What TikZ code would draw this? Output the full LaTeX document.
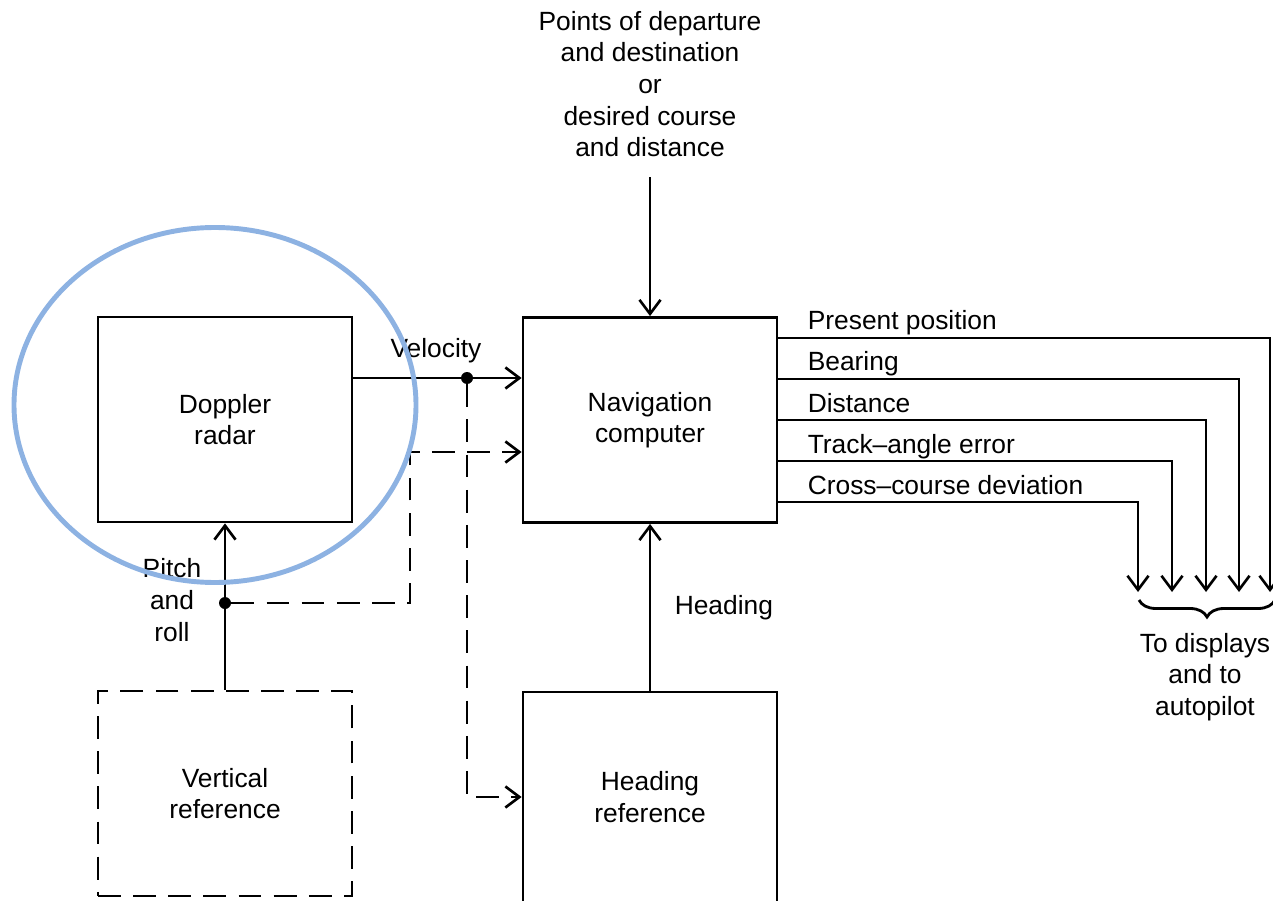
\documentclass[tikz,border=0pt]{standalone}
\usepackage{fontspec}
\setmainfont{Liberation Sans}
\usepackage{tikz}
\usetikzlibrary{arrows.meta,decorations.pathreplacing}
\definecolor{ringblue}{RGB}{141,178,226}

\begin{document}
\begin{tikzpicture}[font=\fontsize{15}{18}\selectfont]
  \tikzset{block/.style = {shape=rectangle,draw,line width=1.6pt,minimum width=5.08cm,minimum height=4.1cm,align=center,inner sep=1pt}}
  \tikzset{edge/.style = {line width=1.6pt,-{Straight Barb[length=8pt,width=12pt,line width=1.5pt]}}}
  \tikzset{dashedge/.style = {edge,dash pattern=on 13pt off 7pt}}
  \tikzset{dot/.style = {shape=circle,fill,inner sep=0pt,minimum size=0.24cm}}
  \tikzset{tag/.style = {inner sep=0pt,align=center}}

  \useasboundingbox (0,0) rectangle (25.46,18);

	\node[tag] (0) at (13.0,16.32) {Points of departure\\and destination\\or\\desired course\\and distance};

	\node[block] (1) at (4.5,9.61) {Doppler\\radar};
	\node[block] (2) at (13.0,9.6) {Navigation\\computer};

		\node[block,dash pattern=on 13pt off 7pt] (3) at (4.5,2.13) {Vertical\\reference};
		\node[block,minimum height=4.2cm] (4) at (13.0,2.06) {Heading\\reference};

	\node[dot] (5) at (9.34,10.44) {};
	\node[dot] (6) at (4.5,5.94) {};
	\coordinate (7) at (8.2,5.94);

	\node[tag] (8) at (8.72,10.98) {Velocity};
	\node[tag] (9) at (3.44,6.0) {Pitch\\and\\roll};
	\node[tag] (10) at (24.1,4.46) {To displays\\and to\\autopilot};

		\coordinate (11) at (25.4,6.16);
		\coordinate (12) at (24.78,6.16);
		\coordinate (13) at (24.12,6.16);
		\coordinate (14) at (23.44,6.16);
		\coordinate (15) at (22.76,6.16);

    \draw[edge] ([yshift=-0.4cm]0.south) -- (2.north);
    \draw[edge] (1.east |- 5) -- (2.west |- 5);
    \draw[dashedge] (5) |- (4.west);
    \draw[dashedge] (6) -- (7) |- ([yshift=-0.64cm]2.west);
    \draw[edge] (3.north) -- (1.south);
    \draw[edge] (4.north) -- node[right=0.35cm] (16) {Heading} (2.south);

    \foreach \dy/\to/\text in {1.64/11/Present position,0.82/12/Bearing,0/13/Distance,
    -0.82/14/Track--angle error,-1.64/15/Cross--course deviation
    }
    \draw[edge] ([yshift=\dy cm]2.east) node[tag,anchor=base west,xshift=0.56cm,yshift=0.16cm] (l\to) {\text} -| (\to);

    \draw[line width=1.6pt,decorate,decoration={brace,amplitude=0.34cm}] (25.5,6.0) -- (22.78,6.0);

    \draw[line width=2.8pt,ringblue] (4.3,9.9) ellipse [x radius=4.02cm,y radius=3.55cm];

\end{tikzpicture}
\end{document}
